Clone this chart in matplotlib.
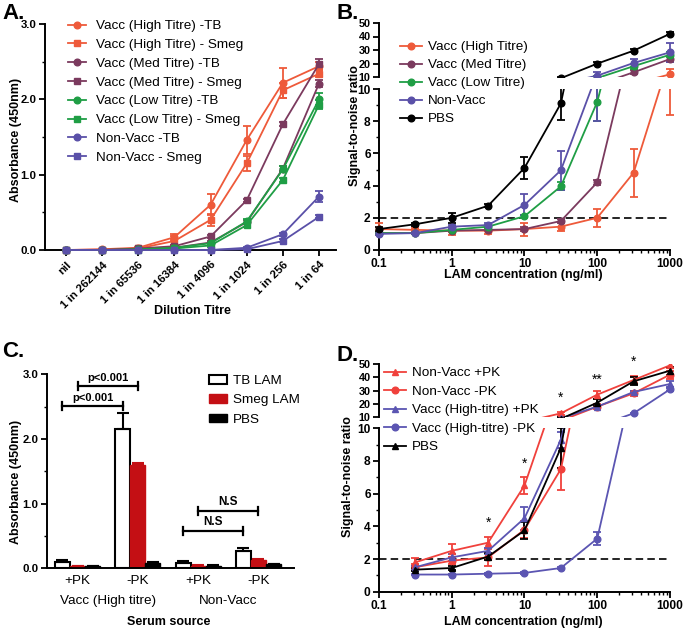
import matplotlib
matplotlib.use('Agg')
import matplotlib.pyplot as plt
import numpy as np
from matplotlib.transforms import Bbox, TransformedBbox, blended_transform_factory
from matplotlib.ticker import NullFormatter
from matplotlib.lines import Line2D
from matplotlib.patches import Patch

plt.rcParams['font.family'] = ['Liberation Sans', 'DejaVu Sans']

# ---------------- DATA ----------------
# Panel A
dilutions = ['nil', '1 in 262144', '1 in 65536', '1 in 16384', '1 in 4096',
             '1 in 1024', '1 in 256', '1 in 64']
a_high_tb = [0.0, 0.01, 0.03, 0.17, 0.60, 1.46, 2.22, 2.44]
a_high_tb_err = [0.0, 0.0, 0.01, 0.04, 0.14, 0.18, 0.20, 0.05]
a_high_smeg = [0.0, 0.005, 0.02, 0.12, 0.40, 1.15, 2.12, 2.34]
a_high_smeg_err = [0.0, 0.0, 0.01, 0.06, 0.08, 0.10, 0.10, 0.05]
a_med_tb = [0.0, 0.0, 0.01, 0.03, 0.10, 0.37, 1.08, 2.21]
a_med_tb_err = [0.0, 0.0, 0.0, 0.01, 0.02, 0.03, 0.03, 0.05]
a_med_smeg = [0.0, 0.0, 0.02, 0.05, 0.18, 0.66, 1.67, 2.47]
a_med_smeg_err = [0.0, 0.0, 0.0, 0.01, 0.02, 0.02, 0.03, 0.06]
a_low_tb = [0.0, 0.0, 0.01, 0.03, 0.09, 0.38, 1.07, 2.00]
a_low_tb_err = [0.0, 0.0, 0.0, 0.01, 0.02, 0.03, 0.04, 0.08]
a_low_smeg = [0.0, 0.0, 0.0, 0.02, 0.06, 0.33, 0.93, 1.93]
a_low_smeg_err = [0.0, 0.0, 0.0, 0.01, 0.02, 0.03, 0.03, 0.06]
a_nv_tb = [0.0, 0.0, 0.0, 0.0, 0.0, 0.03, 0.21, 0.71]
a_nv_tb_err = [0.0, 0.0, 0.0, 0.0, 0.0, 0.01, 0.02, 0.07]
a_nv_smeg = [0.0, 0.0, 0.0, 0.0, 0.0, 0.01, 0.12, 0.44]
a_nv_smeg_err = [0.0, 0.0, 0.0, 0.0, 0.0, 0.01, 0.02, 0.02]

# Panel B
b_conc = [0.1, 0.316, 1, 3.16, 10, 31.6, 100, 316, 1000]
b_high = [1.3, 1.25, 1.2, 1.2, 1.3, 1.45, 2.0, 4.8, 12.0]
b_high_err = [0.35, 0.1, 0.25, 0.2, 0.4, 0.3, 0.55, 1.5, 3.6]
b_med = [1.05, 1.05, 1.2, 1.25, 1.3, 1.8, 4.2, 13.5, 23.3]
b_med_err = [0.05, 0.05, 0.1, 0.1, 0.1, 0.1, 0.15, 1.5, 2.0]
b_low = [1.05, 1.05, 1.25, 1.45, 2.1, 3.95, 9.2, 18.0, 26.5]
b_low_err = [0.05, 0.05, 0.1, 0.1, 0.1, 0.25, 1.2, 2.0, 2.0]
b_nv = [1.0, 1.05, 1.45, 1.55, 2.8, 4.95, 11.0, 20.4, 28.3]
b_nv_err = [0.05, 0.05, 0.1, 0.1, 0.65, 1.2, 3.0, 3.0, 7.0]
b_pbs = [1.3, 1.6, 2.0, 2.75, 5.1, 9.1, 19.9, 29.5, 42.0]
b_pbs_err = [0.1, 0.1, 0.3, 0.1, 0.7, 1.0, 1.0, 1.0, 1.0]

# Panel C
c_groups = ['+PK', '-PK', '+PK', '-PK']
c_sources = ['Vacc (High titre)', 'Non-Vacc']
c_tb = [0.10, 2.15, 0.08, 0.26]
c_tb_err = [0.03, 0.25, 0.03, 0.05]
c_smeg = [0.03, 1.60, 0.04, 0.13]
c_smeg_err = [0.01, 0.03, 0.01, 0.02]
c_pbs = [0.03, 0.08, 0.04, 0.06]
c_pbs_err = [0.01, 0.02, 0.01, 0.01]

# Panel D
d_conc = [0.316, 1, 3.16, 10, 31.6, 100, 316, 1000]
d_nv_pk = [1.8, 2.5, 3.0, 6.5, 13.0, 27.0, 38.0, 49.0]
d_nv_pk_err = [0.25, 0.4, 0.35, 0.5, 1.0, 3.0, 3.0, 2.0]
d_nv_nopk = [1.5, 1.9, 2.1, 3.8, 7.5, 18.0, 28.0, 42.0]
d_nv_nopk_err = [0.2, 0.2, 0.5, 0.5, 1.3, 2.0, 2.0, 3.0]
d_v_pk = [1.5, 2.1, 2.5, 4.5, 9.3, 18.0, 29.0, 35.0]
d_v_pk_err = [0.1, 0.2, 0.2, 0.7, 0.5, 1.0, 1.0, 2.0]
d_v_nopk = [1.05, 1.05, 1.1, 1.15, 1.45, 3.25, 13.0, 31.0]
d_v_nopk_err = [0.05, 0.05, 0.05, 0.05, 0.05, 0.4, 0.5, 1.0]
d_pbs = [1.35, 1.45, 2.15, 3.75, 8.8, 21.0, 37.0, 45.0]
d_pbs_err = [0.1, 0.1, 0.2, 0.5, 1.2, 2.5, 3.0, 3.0]
d_star_x = [3.16, 10, 31.6, 100, 316]
d_star_y = [4.2, 7.8, 25.0, 38.5, 51.5]
d_star_txt = ['*', '*', '*', '**', '*']

# ---------------- STYLE ----------------
C_HIGH = '#EE5A3A'
C_MED = '#7B3A5E'
C_LOW = '#1F9E45'
C_NV = '#5A50A8'
C_BLK = '#000000'
D_RED = '#F0413C'
D_BLUE = '#5B55B2'
C_BAR_RED = '#C40F14'

W, H = 685, 632
fig = plt.figure(figsize=(W / 100, H / 100), dpi=100)


def rect(l, t, r, b):
    return [l / W, 1 - b / H, (r - l) / W, (b - t) / H]


def fx(x):
    return x / W


def fy(y):
    return 1 - y / H


LAB_FS = 9
LEG_FS = 9.7
LW = 1.3
MS = 4.8


def style(ax, fs):
    for s in ['top', 'right']:
        ax.spines[s].set_visible(False)
    for s in ['left', 'bottom']:
        ax.spines[s].set_linewidth(1.4)
    ax.tick_params(which='major', length=4, width=1.3, labelsize=fs, pad=2)
    ax.tick_params(which='minor', length=2.2, width=1.0)


def extend_clip(ax, cont, ext=(0.03, 0.0)):
    bb = TransformedBbox(Bbox([[-ext[0], -ext[1]], [1 + ext[0], 1 + ext[1]]]),
                         ax.transAxes)
    for art in cont.get_children():
        art.set_clip_path(None)
        art.set_clip_box(bb)


def ebar(ax, x, y, e, color, marker, ext=(0.03, 0.0)):
    c = ax.errorbar(x, y, yerr=e, color=color, marker=marker, ms=MS, lw=LW,
                    elinewidth=LW, capsize=2.6, capthick=LW, zorder=3)
    extend_clip(ax, c, ext)
    return c


# ---------------- PANEL A ----------------
axA = fig.add_axes(rect(45, 24, 336, 250))
xA = np.arange(len(dilutions))
seriesA = [
    (a_high_tb, a_high_tb_err, C_HIGH, 'o', 'Vacc (High Titre) -TB'),
    (a_high_smeg, a_high_smeg_err, C_HIGH, 's', 'Vacc (High Titre) - Smeg'),
    (a_med_tb, a_med_tb_err, C_MED, 'o', 'Vacc (Med Titre) -TB'),
    (a_med_smeg, a_med_smeg_err, C_MED, 's', 'Vacc (Med Titre) - Smeg'),
    (a_low_tb, a_low_tb_err, C_LOW, 'o', 'Vacc (Low Titre) -TB'),
    (a_low_smeg, a_low_smeg_err, C_LOW, 's', 'Vacc (Low Titre) - Smeg'),
    (a_nv_tb, a_nv_tb_err, C_NV, 'o', 'Non-Vacc -TB'),
    (a_nv_smeg, a_nv_smeg_err, C_NV, 's', 'Non-Vacc - Smeg'),
]
handlesA = []
for y, e, c, m, lab in seriesA:
    ebar(axA, xA, y, e, c, m, ext=(0.03, 0.04))
    handlesA.append(Line2D([], [], color=c, marker=m, ms=MS, lw=LW, label=lab))
axA.set_xlim(-0.58, 7.47)
axA.set_ylim(0, 3.0)
style(axA, 8.2)
axA.set_yticks([0, 1, 2, 3], ['0.0', '1.0', '2.0', '3.0'], fontweight='bold')
axA.set_yticks([0.5, 1.5, 2.5], minor=True)
axA.set_xticks(xA, dilutions, rotation=45, ha='right', rotation_mode='anchor',
               fontweight='bold')
axA.tick_params(axis='x', pad=3)
fig.legend(handles=handlesA, loc='upper left', bbox_to_anchor=(fx(68), fy(20)),
           frameon=False, borderpad=0, borderaxespad=0, fontsize=LEG_FS,
           handlelength=1.35, handletextpad=0.7, labelspacing=0.47)
fig.text(fx(15.5), fy(140), 'Absorbance (450nm)', rotation=90, ha='center',
         va='center', fontsize=LAB_FS, fontweight='bold')
fig.text(fx(192), fy(311), 'Dilution Titre', ha='center', va='center',
         fontsize=LAB_FS, fontweight='bold')
fig.text(fx(2), fy(3), 'A.', ha='left', va='top', fontsize=16, fontweight='bold')


# ---------------- BROKEN LOG PANELS ----------------
def broken_panel(lo_box, hi_box, x, series):
    axlo = fig.add_axes(rect(*lo_box))
    axhi = fig.add_axes(rect(*hi_box))
    for ax in (axlo, axhi):
        ax.set_xscale('log')
        for y, e, c, m, lab in series:
            ebar(ax, x, y, e, c, m)
        ax.set_xlim(0.1, 1000)
    style(axlo, 8.6)
    style(axhi, 7.8)
    axlo.plot([0.1, 1000], [2, 2], color='black', lw=1.2, dashes=(4.5, 2.5),
              zorder=1)
    axlo.set_ylim(0, 10)
    axhi.set_ylim(10, 50)
    axlo.set_yticks([0, 2, 4, 6, 8, 10], ['0', '2', '4', '6', '8', '10'],
                    fontweight='bold')
    axlo.set_yticks([1, 3, 5, 7, 9], minor=True)
    axhi.set_yticks([10, 20, 30, 40, 50], ['10', '20', '30', '40', '50'],
                    fontweight='bold')
    axhi.spines['bottom'].set_visible(False)
    axhi.tick_params(axis='x', which='both', bottom=False, labelbottom=False)
    axhi.patch.set_alpha(0)
    axlo.set_xticks([0.1, 1, 10, 100, 1000], ['0.1', '1', '10', '100', '1000'],
                    fontweight='bold')
    minors = [m * 10.0 ** k for k in range(-1, 3) for m in range(2, 10)]
    axlo.set_xticks(minors, minor=True)
    axlo.xaxis.set_minor_formatter(NullFormatter())
    return axlo, axhi


# ---------------- PANEL B ----------------
seriesB = [
    (b_high, b_high_err, C_HIGH, 'o', 'Vacc (High Titre)'),
    (b_med, b_med_err, C_MED, 'o', 'Vacc (Med Titre)'),
    (b_low, b_low_err, C_LOW, 'o', 'Vacc (Low Titre)'),
    (b_nv, b_nv_err, C_NV, 'o', 'Non-Vacc'),
    (b_pbs, b_pbs_err, C_BLK, 'o', 'PBS'),
]
bl, bh = broken_panel((379, 89, 670, 250), (379, 23, 670, 77), b_conc, seriesB)
handlesB = [Line2D([], [], color=c, marker=m, ms=MS, lw=LW, label=lab)
            for y, e, c, m, lab in seriesB]
fig.legend(handles=handlesB, loc='upper left', bbox_to_anchor=(fx(400), fy(41)),
           frameon=False, borderpad=0, borderaxespad=0, fontsize=LEG_FS,
           handlelength=1.65, handletextpad=0.45, labelspacing=0.41)
fig.text(fx(355), fy(126), 'Signal-to-noise ratio', rotation=90, ha='center',
         va='center', fontsize=LAB_FS, fontweight='bold')
fig.text(fx(523), fy(275), 'LAM concentration (ng/ml)', ha='center',
         va='center', fontsize=LAB_FS, fontweight='bold')
fig.text(fx(337), fy(3), 'B.', ha='left', va='top', fontsize=16,
         fontweight='bold')

# ---------------- PANEL C ----------------
axC = fig.add_axes(rect(47, 374.3, 294, 568.3))
xC = np.arange(len(c_groups))
bw = 0.25
axC.bar(xC - bw, c_tb, bw, color='white', edgecolor='black', linewidth=1.5,
        label='TB LAM', zorder=2)
axC.bar(xC, c_smeg, bw, color=C_BAR_RED, edgecolor=C_BAR_RED, linewidth=1.0,
        label='Smeg LAM', zorder=2)
axC.bar(xC + bw, c_pbs, bw, color='black', edgecolor='black', linewidth=1.0,
        label='PBS', zorder=2)
zeros = [0] * len(xC)
axC.errorbar(xC - bw, c_tb, yerr=[zeros, c_tb_err], fmt='none', ecolor='black',
             elinewidth=1.5, capsize=4, capthick=1.5, zorder=3)
axC.errorbar(xC, c_smeg, yerr=[zeros, c_smeg_err], fmt='none', ecolor=C_BAR_RED,
             elinewidth=1.5, capsize=4, capthick=1.5, zorder=3)
axC.errorbar(xC + bw, c_pbs, yerr=[zeros, c_pbs_err], fmt='none',
             ecolor='black', elinewidth=1.5, capsize=4, capthick=1.5, zorder=3)
axC.set_xlim(-0.507, 3.59)
axC.set_ylim(0, 3.0)
style(axC, 8.2)
axC.set_yticks([0, 1, 2, 3], ['0.0', '1.0', '2.0', '3.0'], fontweight='bold')
axC.set_yticks([0.5, 1.5, 2.5], minor=True)
axC.set_xticks(xC, c_groups, fontsize=LEG_FS)
axC.tick_params(axis='x', which='both', length=0, pad=5)
trC = blended_transform_factory(axC.transData, axC.transAxes)
axC.text(0.5, -0.17, c_sources[0], transform=trC, ha='center', va='center',
         fontsize=LEG_FS)
axC.text(2.5, -0.17, c_sources[1], transform=trC, ha='center', va='center',
         fontsize=LEG_FS)


def bracket(ax, x0, x1, y, txt, fs):
    ax.plot([x0, x1], [y, y], color='black', lw=1.6, zorder=4)
    for xx in (x0, x1):
        ax.plot([xx, xx], [y - 0.06, y + 0.06], color='black', lw=1.6, zorder=4)
    ax.text((x0 + x1) / 2, y + 0.04, txt, ha='center', va='bottom',
            fontsize=fs, fontweight='bold')


bracket(axC, 0 - bw, 1 - bw, 2.51, 'p<0.001', 8)
bracket(axC, 0, 1, 2.82, 'p<0.001', 8)
bracket(axC, 2 - bw, 3 - bw, 0.58, 'N.S', 8.5)
bracket(axC, 2, 3, 0.89, 'N.S', 8.5)
handlesC = [Patch(facecolor='white', edgecolor='black', linewidth=1.5, label='TB LAM'),
            Patch(facecolor=C_BAR_RED, edgecolor=C_BAR_RED, label='Smeg LAM'),
            Patch(facecolor='black', edgecolor='black', label='PBS')]
fig.legend(handles=handlesC, loc='upper left', bbox_to_anchor=(fx(209), fy(375)),
           frameon=False, borderpad=0, borderaxespad=0, fontsize=LEG_FS,
           handlelength=1.35, handleheight=0.6, handletextpad=0.45,
           labelspacing=0.55)
fig.text(fx(15.5), fy(482), 'Absorbance (450nm)', rotation=90, ha='center',
         va='center', fontsize=LAB_FS, fontweight='bold')
fig.text(fx(169), fy(622), 'Serum source', ha='center', va='center',
         fontsize=LAB_FS, fontweight='bold')
fig.text(fx(2), fy(341), 'C.', ha='left', va='top', fontsize=16,
         fontweight='bold')

# ---------------- PANEL D ----------------
seriesD = [
    (d_nv_pk, d_nv_pk_err, D_RED, '^', 'Non-Vacc +PK'),
    (d_nv_nopk, d_nv_nopk_err, D_RED, 'o', 'Non-Vacc -PK'),
    (d_v_pk, d_v_pk_err, D_BLUE, '^', 'Vacc (High-titre) +PK'),
    (d_v_nopk, d_v_nopk_err, D_BLUE, 'o', 'Vacc (High-titre) -PK'),
    (d_pbs, d_pbs_err, C_BLK, '^', 'PBS'),
]
dl, dh = broken_panel((379, 428.3, 670, 591.7), (379, 364, 670, 417.3),
                      d_conc, seriesD)
for xs, ys, t in zip(d_star_x, d_star_y, d_star_txt):
    ax = dl if ys <= 10 else dh
    ax.text(xs, ys, t, ha='center', va='center', fontsize=10, clip_on=False)
handlesD = [Line2D([], [], color=c, marker=m, ms=MS, lw=LW, label=lab)
            for y, e, c, m, lab in seriesD]
fig.legend(handles=handlesD, loc='upper left', bbox_to_anchor=(fx(384), fy(367)),
           frameon=False, borderpad=0, borderaxespad=0, fontsize=LEG_FS,
           handlelength=1.65, handletextpad=0.45, labelspacing=0.45)
fig.text(fx(348), fy(477), 'Signal-to-noise ratio', rotation=90, ha='center',
         va='center', fontsize=LAB_FS, fontweight='bold')
fig.text(fx(523), fy(622), 'LAM concentration (ng/ml)', ha='center',
         va='center', fontsize=LAB_FS, fontweight='bold')
fig.text(fx(336), fy(345), 'D.', ha='left', va='top', fontsize=16,
         fontweight='bold')

fig.savefig('out.png', dpi=100)
